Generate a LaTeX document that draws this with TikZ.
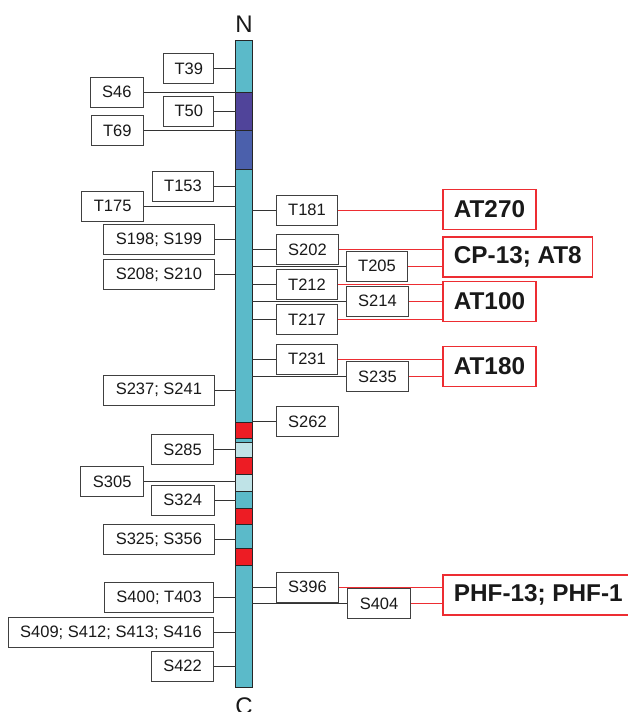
\documentclass[tikz,border=0pt]{standalone}
\usepackage{fontspec}
\setmainfont{Liberation Sans}
\usepackage{tikz}
\usepackage{xcolor}
\definecolor{taucyan}{RGB}{91,186,201}
\definecolor{taupurple}{RGB}{80,68,154}
\definecolor{taublue}{RGB}{75,96,172}
\definecolor{taured}{RGB}{237,28,36}
\definecolor{taulight}{RGB}{191,227,231}
\definecolor{hitred}{RGB}{237,45,50}

\begin{document}
\begin{tikzpicture}[
    x=1pt, y=-1pt,
    every node/.style={font=\fontsize{16.5}{18}\selectfont, text=black!90},
    site/.style={draw=black!75, fill=white, line width=1pt, minimum height=30pt, inner ysep=0pt, inner xsep=12pt},
    antibody/.style={draw=hitred, fill=white, line width=1.2pt, minimum height=40pt, inner ysep=0pt, inner xsep=11pt, font=\fontsize{24.3}{26}\selectfont\bfseries},
    link/.style={draw=black!80, line width=0.9pt},
    hit/.style={draw=hitred, line width=0.9pt},
    term/.style={font=\fontsize{24}{26}\selectfont, anchor=base}
]
\useasboundingbox (0,0) rectangle (628,712);
\clip (0,0) rectangle (628,712);

% Protein bar
\foreach \ya/\yb/\col in {40/92.5/taucyan, 92.5/130/taupurple, 130/169/taublue, 169/422/taucyan,
    422/438/taured, 438/442/taucyan, 442/457/taulight, 457/474/taured, 474/491/taulight,
    491/508/taucyan, 508/524/taured, 524/548/taucyan, 548/565/taured, 565/687/taucyan}
    \filldraw[fill=\col, draw=black!85, line width=0.9pt] (235.7,\ya) rectangle (252.3,\yb);
\coordinate (barL) at (235.7,0);
\coordinate (barR) at (252.3,0);

\node[term] (nterm) at (244,32.3) {N};
\node[term] (cterm) at (244,714.5) {C};

% Sites, left side
\node[site, anchor=east, inner xsep=10.8pt] (t39) at (214.3,68.5) {T39};
\node[site, anchor=east] (s46) at (144,92.2) {S46};
\node[site, anchor=east, inner xsep=10.8pt] (t50) at (214.3,111) {T50};
\node[site, anchor=east] (t69) at (144,130.8) {T69};
\node[site, anchor=east] (t153) at (214.3,186.2) {T153};
\node[site, anchor=east] (t175) at (144,206) {T175};
\node[site, anchor=east] (s198) at (214.5,239.7) {S198; S199};
\node[site, anchor=east] (s208) at (214.5,274.3) {S208; S210};
\node[site, anchor=east] (s237) at (214.5,390.2) {S237; S241};
\node[site, anchor=east] (s285) at (214.3,449.7) {S285};
\node[site, anchor=east] (s305) at (144,481.9) {S305};
\node[site, anchor=east] (s324) at (214.5,500.3) {S324};
\node[site, anchor=east] (s325) at (214.5,539.5) {S325; S356};
\node[site, anchor=east] (s400) at (214.3,597.3) {S400; T403};
\node[site, anchor=east] (s409) at (214.3,632.5) {S409; S412; S413; S416};
\node[site, anchor=east] (s422) at (214.3,666.2) {S422};

\foreach \n in {t39,s46,t50,t69,t153,t175,s198,s208,s237,s285,s305,s324,s325,s400,s409,s422}
    \draw[link] (\n) -- (\n -| barL);

% Sites, right side
\node[site, anchor=west] (t181) at (275.7,210) {T181};
\node[site, anchor=west] (s202) at (275.7,249.5) {S202};
\node[site, anchor=west] (t205) at (345.7,266.3) {T205};
\node[site, anchor=west] (t212) at (275.7,284.7) {T212};
\node[site, anchor=west] (s214) at (345.7,301) {S214};
\node[site, anchor=west] (t217) at (275.7,319.8) {T217};
\node[site, anchor=west] (t231) at (275.7,359) {T231};
\node[site, anchor=west] (s235) at (345.7,376.7) {S235};
\node[site, anchor=west] (s262) at (275.7,421.5) {S262};
\node[site, anchor=west] (s396) at (275.7,587.2) {S396};
\node[site, anchor=west] (s404) at (347.3,603.8) {S404};

% Antibodies (the last box runs off the right edge)
\node[antibody, anchor=west] (at270) at (442.3,209.3) {AT270};
\node[antibody, anchor=west] (cp13) at (442.3,257) {CP-13; AT8};
\node[antibody, anchor=west] (at100) at (442.3,301.3) {AT100};
\node[antibody, anchor=west] (at180) at (442.3,366.5) {AT180};
\node[antibody, anchor=west] (phf) at (442.3,595) {PHF-13; PHF-1\hspace*{30pt}};

% Links
\foreach \n/\ab in {t181/at270, s202/cp13, t205/cp13, t212/at100, s214/at100, t217/at100,
    t231/at180, s235/at180, s396/phf, s404/phf}
    \draw[hit] (\n.east) -- (\n.east -| \ab.west);

\foreach \n in {t181,s202,t205,t212,s214,t217,t231,s235,s262,s396,s404}
    \draw[link] (barR |- \n.west) -- (\n.west);

\end{tikzpicture}
\end{document}
